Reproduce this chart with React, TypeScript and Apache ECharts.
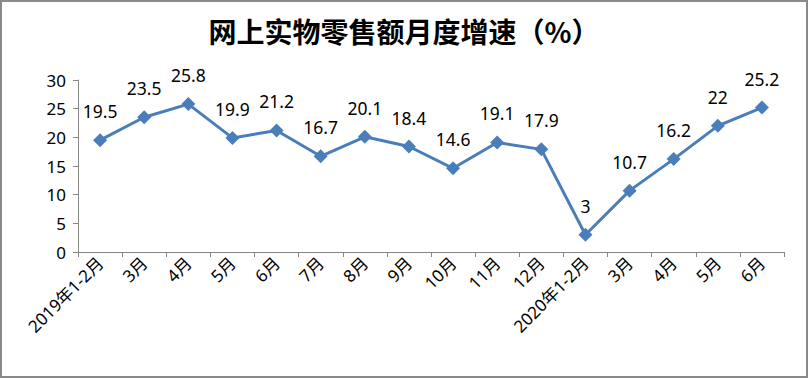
import React, { useEffect, useRef } from "react";
import * as echarts from "echarts";

const categories = [
  "2019年1-2月", "3月", "4月", "5月", "6月", "7月", "8月", "9月", "10月", "11月", "12月",
  "2020年1-2月", "3月", "4月", "5月", "6月",
];
const growth = [19.5, 23.5, 25.8, 19.9, 21.2, 16.7, 20.1, 18.4, 14.6, 19.1, 17.9, 3, 10.7, 16.2, 22, 25.2];
const titleText = "网上实物零售额月度增速（%）";

export default function App() {
  const ref = useRef<HTMLDivElement>(null);
  useEffect(() => {
    document.body.style.margin = "0";
    const chart = echarts.init(ref.current!, null, { renderer: "svg" });
    chart.setOption({
      animation: false,
      backgroundColor: "#ffffff",
      title: {
        text: titleText,
        left: "center",
        top: 12,
        textStyle: {
          fontFamily: "Noto Sans CJK SC",
          fontSize: 28,
          fontWeight: "bold",
          color: "#000000",
        },
      },
      graphic: [
        {
          type: "rect",
          shape: { x: 1, y: 1, width: 806, height: 376 },
          style: { fill: "none", stroke: "#898989", lineWidth: 2 },
          silent: true,
        },
      ],
      grid: { left: 78, right: 24, top: 80, bottom: 126 },
      xAxis: {
        type: "category",
        data: categories,
        boundaryGap: true,
        axisLine: { lineStyle: { color: "#868686", width: 1 } },
        axisTick: { show: true, alignWithLabel: false, length: 5, lineStyle: { color: "#868686" } },
        axisLabel: {
          rotate: 45,
          interval: 0,
          margin: 8,
          color: "#000000",
          fontFamily: "Noto Sans, Noto Sans CJK SC",
          fontSize: 17,
        },
        splitLine: { show: false },
      },
      yAxis: {
        type: "value",
        min: 0,
        max: 30,
        interval: 5,
        axisLine: { show: true, lineStyle: { color: "#868686", width: 1 } },
        axisTick: { show: true, length: 5, lineStyle: { color: "#868686" } },
        axisLabel: {
          color: "#000000",
          fontFamily: "Noto Sans",
          fontSize: 17,
          margin: 12,
        },
        splitLine: { show: false },
      },
      series: [
        {
          type: "line",
          data: growth,
          symbol: "diamond",
          symbolSize: 14,
          lineStyle: { color: "#4a7ebb", width: 3 },
          itemStyle: { color: "#4a7ebb" },
          label: {
            show: true,
            position: "top",
            distance: 13,
            color: "#000000",
            fontFamily: "Noto Sans",
            fontSize: 17.5,
          },
        },
      ],
    });
    return () => chart.dispose();
  }, []);
  return <div ref={ref} style={{ position: "absolute", left: 0, top: 0, width: 808, height: 378 }} />;
}
